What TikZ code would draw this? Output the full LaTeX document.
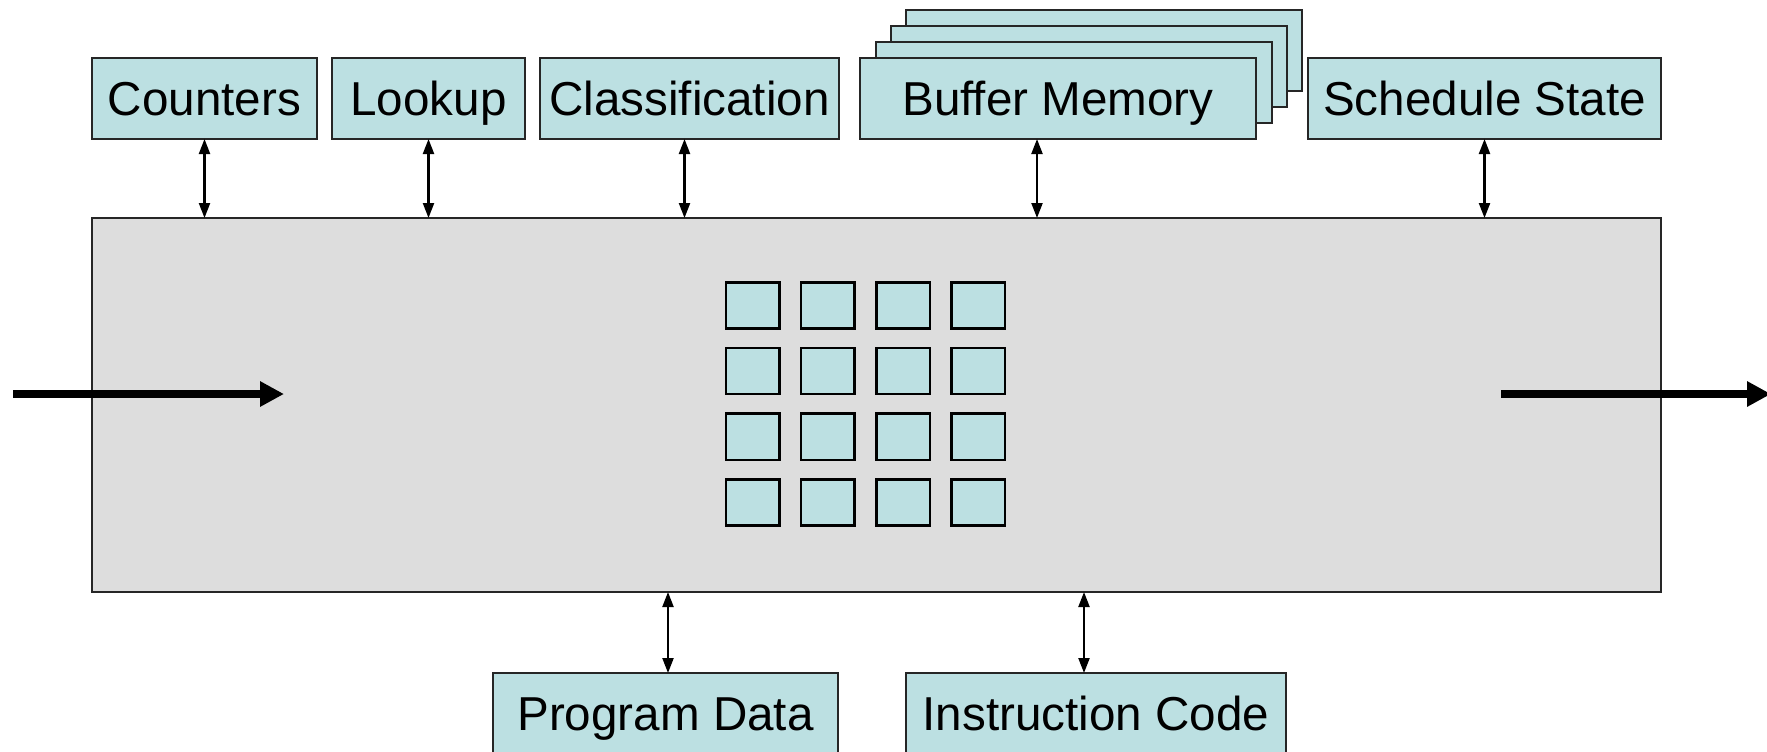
\documentclass[tikz,border=0pt]{standalone}
\usepackage{fontspec}
\setmainfont{Liberation Sans}
\usetikzlibrary{arrows.meta,calc}
\definecolor{unitfill}{RGB}{188,224,226}
\definecolor{corefill}{RGB}{221,221,221}
\begin{document}
\begin{tikzpicture}[x=0.5pt,y=-0.5pt,
  unit/.style={draw=black!85, line width=1pt, fill=unitfill, inner sep=0pt, outer sep=0pt,
    minimum height=40.5pt, text height=17.1pt, text depth=0pt,
    font=\fontsize{23.8pt}{28pt}\selectfont},
  core/.style={draw=black!85, line width=0.9pt, fill=corefill, inner sep=0pt, outer sep=0pt,
    minimum width=784.5pt, minimum height=187pt},
  pe/.style={draw=black, line width=1.2pt, fill=unitfill, inner sep=0pt, outer sep=0pt,
    minimum width=26.65pt, minimum height=23.15pt},
  link/.style={line width=1.1pt, {Triangle[length=7.5pt,width=5.5pt]}-{Triangle[length=7.5pt,width=5.5pt]}},
  flow/.style={line width=3.85pt, -{Triangle[length=12pt,width=12pt]}}]

\useasboundingbox (0,0) rectangle (1767,751);

% processing core with its array of engines
\node[core] (core) at (876.5,405) {};
\foreach \i in {1,...,4}{
  \foreach \j in {1,...,4}{
    \node[pe] (pe-\i-\j) at ({752.65+75.2*(\j-1)},{305.45+65.67*(\i-1)}) {};
  }
}

% memories above the core
\node[unit, minimum width=112.5pt] (cnt) at (204.5,98.5) {Counters};
\node[unit, minimum width=96.5pt] (lku) at (428.5,98.5) {Lookup};
\node[unit, minimum width=149.5pt] (cls) at (689.5,98.5) {Classification};
\node[unit, minimum width=198pt] (buf3) at (1103.6,50.5) {};
\node[unit, minimum width=198pt] (buf2) at (1088.9,66.3) {};
\node[unit, minimum width=198pt] (buf1) at (1073.7,82.3) {};
\node[unit, minimum width=198pt] (buf) at (1058,98.5) {Buffer Memory};
\node[unit, minimum width=176.5pt] (sch) at (1484.5,98.5) {Schedule State};

% memories below the core
\node[unit, minimum width=172.5pt] (pd) at (665.5,713.5) {Program Data};
\node[unit, minimum width=190pt] (ic) at (1096,713.5) {Instruction Code};

% access paths
\coordinate (clsport) at ($(cls.south)+(-5,0)$);
\coordinate (bufport) at ($(buf.south)+(-21,0)$);
\coordinate (icport) at ($(ic.north)+(-12,0)$);
\coordinate (pdport) at ($(pd.north)+(2.5,0)$);
\draw[link] (cnt.south) -- (cnt.south |- core.north);
\draw[link] (lku.south) -- (lku.south |- core.north);
\draw[link] (clsport) -- (clsport |- core.north);
\draw[link] (bufport) -- (bufport |- core.north);
\draw[link] (sch.south) -- (sch.south |- core.north);
\draw[link] (pdport |- core.south) -- (pdport);
\draw[link] (icport |- core.south) -- (icport);

% packet flow in and out
\coordinate (inA) at (13,394);
\coordinate (inB) at (284,394);
\coordinate (outA) at (1501,394);
\coordinate (outB) at (1771,394);
\draw[flow] (inA) -- (inB);
\draw[flow] (outA) -- (outB);
\end{tikzpicture}
\end{document}
